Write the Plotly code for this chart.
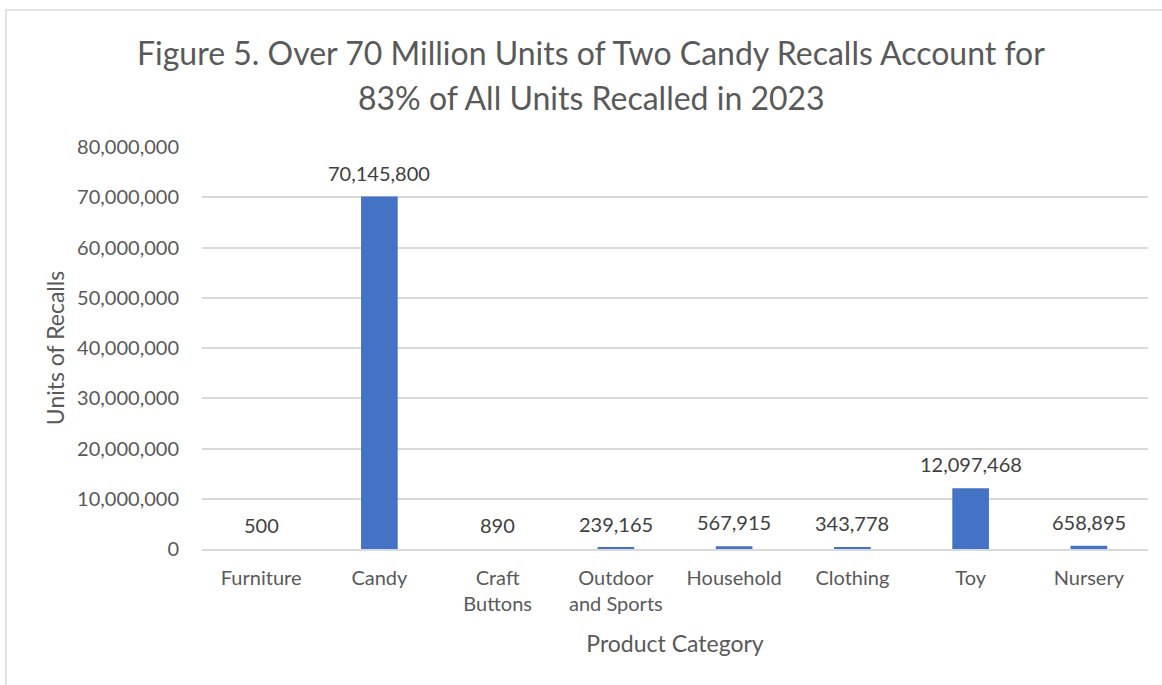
import plotly.graph_objects as go

categories = ["Furniture", "Candy", "Craft<br>Buttons", "Outdoor<br>and Sports",
              "Household", "Clothing", "Toy", "Nursery"]
units = [500, 70145800, 890, 239165, 567915, 343778, 12097468, 658895]
tick_vals = [0, 10000000, 20000000, 30000000, 40000000, 50000000, 60000000, 70000000, 80000000]
tick_text = [f"{v:,}" for v in tick_vals]
title_lines = ["Figure 5. Over 70 Million Units of Two Candy Recalls Account for",
               "83% of All Units Recalled in 2023"]

FONT = "Lato, Carlito, Calibri, sans-serif"
GRAY = "#595959"

fig = go.Figure()
fig.add_trace(go.Bar(
    x=categories, y=units,
    marker=dict(color="#4472C4", line=dict(width=0)),
    width=0.31,
    hoverinfo="x+y",
))

for c, v in zip(categories, units):
    fig.add_annotation(x=c, y=v, text=f"{v:,}", showarrow=False,
                       yanchor="bottom", yshift=10,
                       font=dict(family=FONT, size=20, color="#404040"))

W, H = 1162, 685
L, R, T, B = 202, 14, 147, 136
pw, ph = W - L - R, H - T - B

def px_x(p):
    return (p - L) / pw

def px_y(p):
    return (H - B - p) / ph

for line, yc in zip(title_lines, [52, 97]):
    fig.add_annotation(xref="paper", yref="paper", x=px_x(591), y=px_y(yc),
                       xanchor="center", yanchor="middle", showarrow=False,
                       text=line, font=dict(family=FONT, size=32, color=GRAY))

fig.add_shape(type="rect", xref="paper", yref="paper",
              x0=px_x(6), x1=px_x(W + 20),
              y0=px_y(H + 20), y1=px_y(10),
              line=dict(color="#d9d9d9", width=1.5), layer="below")

fig.update_layout(
    width=W, height=H,
    margin=dict(l=L, r=R, t=T, b=B),
    paper_bgcolor="white", plot_bgcolor="white",
    showlegend=False,
    font=dict(family=FONT, color=GRAY),
)
fig.update_xaxes(
    showline=True, linecolor="#d9d9d9", linewidth=1.5,
    tickfont=dict(family=FONT, size=20, color=GRAY),
    ticklabelstandoff=10,
    title=dict(text="Product Category", font=dict(family=FONT, size=23, color=GRAY), standoff=22),
)
fig.update_yaxes(
    range=[0, 80000000], tickvals=tick_vals, ticktext=tick_text,
    showgrid=True, gridcolor="#d9d9d9", gridwidth=1.5, zeroline=False,
    tickfont=dict(family=FONT, size=20, color=GRAY),
    ticklabelstandoff=22,
    title=dict(text="Units of Recalls", font=dict(family=FONT, size=23, color=GRAY), standoff=6),
)

fig.write_html("out.html", config={"displayModeBar": False},
               post_script="document.body.style.margin='0px';")
